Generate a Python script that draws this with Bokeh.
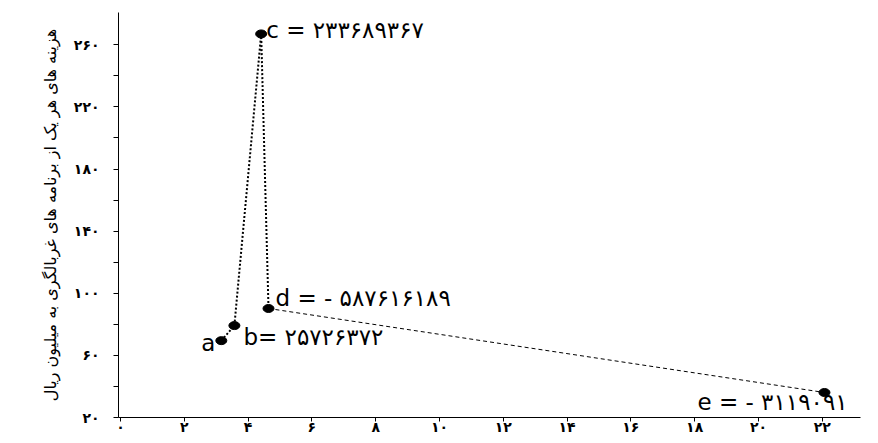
from bokeh.plotting import figure
from bokeh.models import Range1d, FixedTicker, Label
from bokeh.embed import file_html
from bokeh.resources import INLINE

# ---- data ----
point_names = ["a", "b", "c", "d", "e"]
x_vals = [3.16, 3.57, 4.41, 4.64, 22.07]
y_vals = [69.5, 79.2, 267.0, 90.2, 36.1]
point_texts = ["a", "b= ۲۵۷۲۶۳۷۲", "c = ۲۳۳۶۸۹۳۶۷", "d = - ۵۸۷۶۱۶۱۸۹", "e = - ۳۱۱۹۰۹۱"]

x_ticks = [0, 2, 4, 6, 8, 10, 12, 14, 16, 18, 20, 22]
x_tick_labels = ["۰", "۲", "۴", "۶", "۸", "۱۰", "۱۲", "۱۴", "۱۶", "۱۸", "۲۰", "۲۲"]
y_ticks = [20, 60, 100, 140, 180, 220, 260]
y_minor_ticks = [40, 80, 120, 160, 200, 240]
y_tick_labels = ["۲۰", "۶۰", "۱۰۰", "۱۴۰", "۱۸۰", "۲۲۰", "۲۶۰"]
y_title = "هزینه های هر یک از برنامه های غربالگری به میلیون ریال"

# ---- figure ----
p = figure(width=878, height=443, output_backend="svg", toolbar_location=None,
           x_range=Range1d(-0.063, 23.2), y_range=Range1d(20, 280.8),
           min_border_left=118, min_border_right=18, min_border_top=12,
           min_border_bottom=26)
p.outline_line_color = None
p.grid.visible = False
p.background_fill_color = "white"

# connecting lines
p.line(x_vals[:4], y_vals[:4], line_color="black", line_width=2, line_dash="2 2")
p.line(x_vals[3:], y_vals[3:], line_color="black", line_width=1, line_dash="4 3")

# markers
p.ellipse(x=x_vals, y=y_vals, width=11, height=8, width_units="screen",
          height_units="screen", fill_color="black", line_color="black")

# point labels (offsets are styling)
placements = {
    "a": dict(x_offset=-6, y_offset=-2, text_align="right"),
    "b": dict(x_offset=9, y_offset=-11, text_align="left"),
    "c": dict(x_offset=5, y_offset=4, text_align="left"),
    "d": dict(x_offset=7, y_offset=10, text_align="left"),
    "e": dict(x_offset=-127, y_offset=-10, text_align="left"),
}
for name, xv, yv, txt in zip(point_names, x_vals, y_vals, point_texts):
    p.add_layout(Label(x=xv, y=yv, text=txt, text_baseline="middle",
                       text_font="DejaVu Sans", text_font_size="23px",
                       text_color="black", **placements[name]))

# axes
p.xaxis.ticker = FixedTicker(ticks=x_ticks)
p.xaxis.major_label_overrides = {t: l for t, l in zip(x_ticks, x_tick_labels)}
p.yaxis.ticker = FixedTicker(ticks=y_ticks, minor_ticks=y_minor_ticks)
p.yaxis.major_label_overrides = {t: l for t, l in zip(y_ticks, y_tick_labels)}

for ax in (p.xaxis[0], p.yaxis[0]):
    ax.axis_line_color = "black"
    ax.axis_line_width = 1
    ax.major_tick_in = 0
    ax.major_tick_out = 5
    ax.major_tick_line_color = "black"
    ax.major_label_text_font = "DejaVu Sans"
    ax.major_label_text_font_size = "14px"
    ax.major_label_text_font_style = "bold"
    ax.major_label_text_color = "black"

p.xaxis.minor_tick_line_color = None
p.xaxis.major_tick_out = 4
p.xaxis.major_label_standoff = -3
p.yaxis.minor_tick_in = 0
p.yaxis.minor_tick_out = 5
p.yaxis.minor_tick_line_color = "black"
p.yaxis.major_label_standoff = 14

p.yaxis.axis_label = y_title
p.yaxis.axis_label_text_font = "DejaVu Sans"
p.yaxis.axis_label_text_font_size = "16px"
p.yaxis.axis_label_text_font_style = "normal"
p.yaxis.axis_label_text_color = "black"
p.yaxis.axis_label_standoff = 11

open("out.html", "w").write(file_html(p, INLINE))
